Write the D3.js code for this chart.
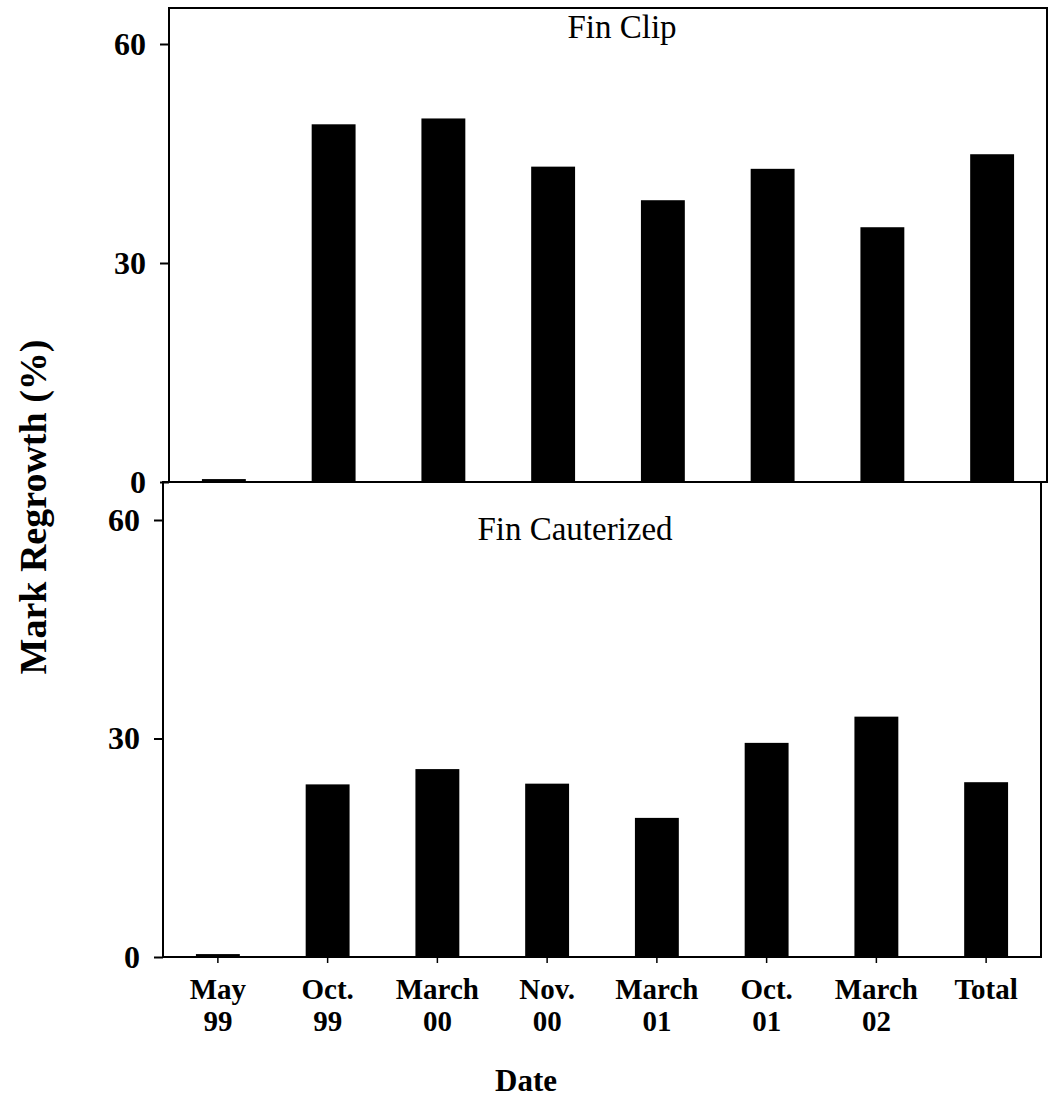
<!DOCTYPE html>
<html>
<head>
<meta charset="utf-8">
<script src="https://cdn.jsdelivr.net/npm/d3@7"></script>
<style>
  body { margin: 0; background: #fff; }
  text { font-family: "Liberation Serif", "Times New Roman", serif; fill: #000; }
</style>
</head>
<body>
<svg width="1049" height="1108"></svg>
<script>
var dates = ["May|99", "Oct.|99", "March|00", "Nov.|00", "March|01", "Oct.|01", "March|02", "Total"];
var finClip = [0.4, 49.0, 49.8, 43.2, 38.6, 42.9, 34.9, 44.9];
var finCauterized = [0.4, 23.7, 25.8, 23.8, 19.1, 29.4, 33.0, 24.0];
var yTicks = [0, 30, 60];

var svg = d3.select("svg");

// two stacked panels, the scan is slightly skewed so each has its own box
var panels = [
  {title: "Fin Clip", values: finClip, left: 169, right: 1047, top: 8, zero: 482, sixty: 44, titleX: 622, titleY: 38},
  {title: "Fin Cauterized", values: finCauterized, left: 163, right: 1041, top: 482, zero: 957, sixty: 520, titleX: 575, titleY: 540}
];

panels.forEach(function(p, i) {
  var x = d3.scaleBand().domain(dates).range([p.left, p.right])
      .paddingInner(0.6).paddingOuter(0.3);
  var y = d3.scaleLinear().domain([0, 60]).range([p.zero, p.sixty]);

  var g = svg.append("g");

  g.selectAll(".bar")
    .data(p.values)
    .enter().append("rect")
    .attr("class", "bar")
    .attr("x", function(d, j) { return x(dates[j]); })
    .attr("y", function(d) { return y(d); })
    .attr("width", x.bandwidth())
    .attr("height", function(d) { return y(0) - y(d); })
    .attr("fill", "#000");

  // frame
  g.append("rect")
    .attr("x", p.left).attr("y", p.top)
    .attr("width", p.right - p.left).attr("height", p.zero - p.top)
    .attr("fill", "none").attr("stroke", "#000").attr("stroke-width", 2);

  var yAxis = g.append("g")
    .attr("transform", "translate(" + p.left + ",0)")
    .call(d3.axisLeft(y).tickValues(yTicks).tickSize(9).tickPadding(14));
  yAxis.select(".domain").remove();
  yAxis.selectAll("line").attr("stroke-width", 2);
  yAxis.selectAll("text")
    .attr("font-family", "Liberation Serif")
    .attr("font-weight", "bold")
    .attr("font-size", 32);

  g.append("text")
    .attr("x", p.titleX).attr("y", p.titleY)
    .attr("text-anchor", "middle")
    .attr("font-size", 33)
    .text(p.title);

  if (i === 1) {
    var xAxis = g.append("g")
      .attr("transform", "translate(0," + p.zero + ")")
      .call(d3.axisBottom(x).tickSize(6).tickFormat(""));
    xAxis.select(".domain").remove();
    xAxis.selectAll("line").attr("stroke-width", 1.5);

    // two-line date labels, one text per line
    dates.forEach(function(d) {
      var cx = x(d) + x.bandwidth() / 2;
      d.split("|").forEach(function(s, k) {
        g.append("text")
          .attr("class", "xlab")
          .attr("x", cx)
          .attr("y", 999 + k * 32)
          .attr("text-anchor", "middle")
          .attr("font-weight", "bold")
          .attr("font-size", 29)
          .text(s);
      });
    });
  }
});

svg.append("text")
  .attr("transform", "translate(46,507) rotate(-90)")
  .attr("text-anchor", "middle")
  .attr("font-weight", "bold")
  .attr("font-size", 38)
  .text("Mark Regrowth (%)");

svg.append("text")
  .attr("x", 526).attr("y", 1091)
  .attr("text-anchor", "middle")
  .attr("font-weight", "bold")
  .attr("font-size", 31)
  .text("Date");
</script>
</body>
</html>
